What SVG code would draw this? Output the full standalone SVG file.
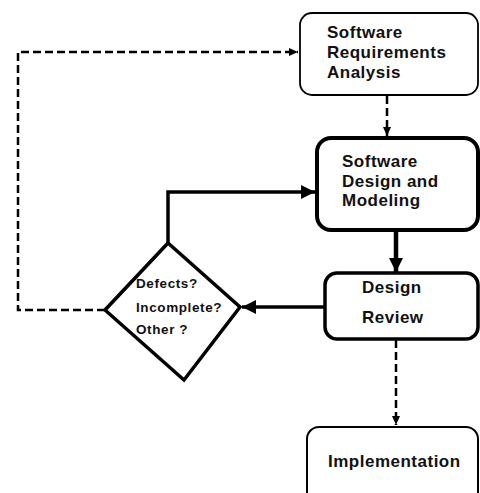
<svg xmlns="http://www.w3.org/2000/svg" width="480" height="493" viewBox="0 0 480 493">
<style>
.box{fill:#fff;stroke:#000}
.t{font-family:"Liberation Sans",Arial,sans-serif;font-weight:bold;fill:#111;font-size:17px;letter-spacing:0.5px}
.d{font-family:"Liberation Sans",Arial,sans-serif;font-weight:bold;fill:#111;font-size:13.5px;letter-spacing:0.6px}
.dash{fill:none;stroke:#000;stroke-width:2.5;stroke-dasharray:8 4}
.solid{fill:none;stroke:#000}
</style>
<defs>
<marker id="ah" markerUnits="userSpaceOnUse" markerWidth="10" markerHeight="10" refX="9" refY="4" orient="auto">
<path d="M0,0 L9,4 L0,8 Z" fill="#000"/>
</marker>
<marker id="ahb" markerUnits="userSpaceOnUse" markerWidth="16" markerHeight="16" refX="14" refY="7" orient="auto">
<path d="M0,0 L14,7 L0,14 Z" fill="#000"/>
</marker>
</defs>
<rect width="480" height="493" fill="#fff"/>
<g id="connectors">
<path class="dash" d="M105,310 H18 V52 H298" marker-end="url(#ah)"/>
<path class="dash" d="M387,96 V136" marker-end="url(#ah)"/>
<path class="solid" stroke-width="3.5" d="M168,243 V192 H315" marker-end="url(#ahb)"/>
<path class="solid" stroke-width="4.5" d="M396,231 V272" marker-end="url(#ahb)"/>
<path class="solid" stroke-width="3.5" d="M325,307 H242" marker-end="url(#ahb)"/>
<path class="dash" d="M396,340 V425" marker-end="url(#ah)"/>
</g>
<g id="n1">
<rect class="box" x="300" y="13" width="178" height="82" rx="12" stroke-width="1.8"/>
<text class="t" x="327" y="38">Software</text>
<text class="t" x="327" y="58">Requirements</text>
<text class="t" x="327" y="78">Analysis</text>
</g>
<g id="n2">
<rect class="box" x="317" y="138" width="161" height="92" rx="14" stroke-width="4"/>
<text class="t" x="342" y="167">Software</text>
<text class="t" x="342" y="187">Design and</text>
<text class="t" x="342" y="206">Modeling</text>
</g>
<g id="n3">
<rect class="box" x="325" y="273" width="153" height="66" rx="12" stroke-width="3.5"/>
<text class="t" x="362" y="293">Design</text>
<text class="t" x="362" y="323">Review</text>
</g>
<g id="n4">
<rect class="box" x="307" y="427" width="171" height="80" rx="12" stroke-width="2"/>
<text class="t" x="328" y="467">Implementation</text>
</g>
<g id="decision">
<path d="M168,243 L240,307 L184,380 L105,310 Z" fill="#fff" stroke="#000" stroke-width="3.5" stroke-linejoin="miter"/>
<text class="d" x="136" y="288">Defects?</text>
<text class="d" x="136" y="312">Incomplete?</text>
<text class="d" x="136" y="334">Other ?</text>
</g>
</svg>
